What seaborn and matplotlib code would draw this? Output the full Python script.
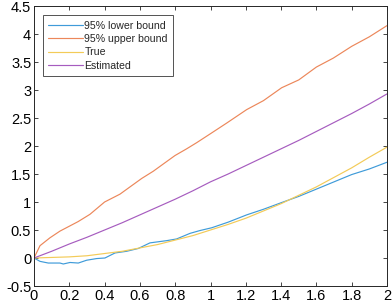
import matplotlib
matplotlib.use("Agg")
import matplotlib.pyplot as plt
import seaborn as sns
import pandas as pd

# ---- data ----
upper_x = [0, 0.034, 0.09, 0.147, 0.25, 0.317, 0.40, 0.487, 0.544, 0.61, 0.676, 0.733,
           0.799, 0.865, 0.922, 1.0, 1.092, 1.205, 1.30, 1.403, 1.50, 1.60, 1.696, 1.80, 1.90, 2.0]
upper_y = [0, 0.22, 0.36, 0.48, 0.65, 0.78, 1.0, 1.14, 1.27, 1.42, 1.55, 1.68,
           1.83, 1.95, 2.06, 2.22, 2.41, 2.65, 2.81, 3.04, 3.18, 3.41, 3.57, 3.78, 3.95, 4.15]

lower_x = [0, 0.034, 0.081, 0.147, 0.166, 0.204, 0.251, 0.298, 0.355, 0.402, 0.459, 0.525,
           0.591, 0.657, 0.752, 0.808, 0.884, 0.94, 1.007, 1.1, 1.205, 1.30, 1.403, 1.50,
           1.60, 1.70, 1.80, 1.90, 2.0]
lower_y = [0, -0.06, -0.09, -0.09, -0.107, -0.08, -0.09, -0.04, -0.01, 0, 0.09, 0.12,
           0.17, 0.27, 0.31, 0.34, 0.44, 0.49, 0.54, 0.64, 0.77, 0.87, 0.99, 1.10,
           1.23, 1.36, 1.49, 1.59, 1.71]

grid_x = [0, 0.1, 0.2, 0.3, 0.4, 0.5, 0.6, 0.7, 0.8, 0.9, 1.0,
          1.1, 1.2, 1.3, 1.4, 1.5, 1.6, 1.7, 1.8, 1.9, 2.0]
true_y = [0, 0.01, 0.02, 0.04, 0.08, 0.12, 0.18, 0.24, 0.32, 0.40, 0.50,
          0.60, 0.71, 0.84, 0.97, 1.12, 1.27, 1.44, 1.61, 1.80, 1.98]
est_y = [0, 0.12, 0.25, 0.37, 0.50, 0.63, 0.77, 0.91, 1.05, 1.20, 1.36,
         1.50, 1.65, 1.80, 1.95, 2.10, 2.26, 2.42, 2.58, 2.75, 2.93]

labels = ["95% lower bound", "95% upper bound", "True", "Estimated"]
colors = ["#3f9bd9", "#ec875a", "#f3cb58", "#a65cbf"]

x_ticks = [0, 0.2, 0.4, 0.6, 0.8, 1, 1.2, 1.4, 1.6, 1.8, 2]
x_ticklabels = ["0", "0.2", "0.4", "0.6", "0.8", "1", "1.2", "1.4", "1.6", "1.8", "2"]
y_ticks = [-0.5, 0, 0.5, 1, 1.5, 2, 2.5, 3, 3.5, 4, 4.5]
y_ticklabels = ["-0.5", "0", "0.5", "1", "1.5", "2", "2.5", "3", "3.5", "4", "4.5"]

frames = [
    pd.DataFrame({"x": lower_x, "y": lower_y, "series": labels[0]}),
    pd.DataFrame({"x": upper_x, "y": upper_y, "series": labels[1]}),
    pd.DataFrame({"x": grid_x, "y": true_y, "series": labels[2]}),
    pd.DataFrame({"x": grid_x, "y": est_y, "series": labels[3]}),
]
df = pd.concat(frames, ignore_index=True)

sns.set_style("white")
plt.rcParams["font.family"] = ["Liberation Sans", "DejaVu Sans"]

fig = plt.figure(figsize=(3.92, 3.08), dpi=100)
ax = fig.add_axes([34 / 392, 22 / 308, 353 / 392, 280 / 308])

sns.lineplot(data=df, x="x", y="y", hue="series", hue_order=labels,
             palette=dict(zip(labels, colors)), linewidth=0.85, ax=ax,
             sort=True, estimator=None)

ax.set_xlim(0, 2)
ax.set_ylim(-0.5, 4.5)
ax.set_xticks(x_ticks)
ax.set_xticklabels(x_ticklabels)
ax.set_yticks(y_ticks)
ax.set_yticklabels(y_ticklabels)
ax.set_xlabel("")
ax.set_ylabel("")
ax.tick_params(direction="in", length=3, width=0.6, colors="#262626",
               labelsize=10.5, labelcolor="black", top=True, right=True,
               bottom=True, left=True, pad=2)
for s in ax.spines.values():
    s.set_color("#262626")
    s.set_linewidth(0.7)
    s.set_visible(True)

handles, lbls = ax.get_legend_handles_labels()
leg = ax.legend(handles, lbls, loc="upper left", bbox_to_anchor=(0.026, 0.967),
                fontsize=7.6, frameon=True, fancybox=False, handlelength=3.3,
                handletextpad=0.1, labelspacing=0.32, borderpad=0.5,
                borderaxespad=0)
leg.get_frame().set_edgecolor("#262626")
leg.get_frame().set_linewidth(0.7)

fig.savefig("out.png", dpi=100)
